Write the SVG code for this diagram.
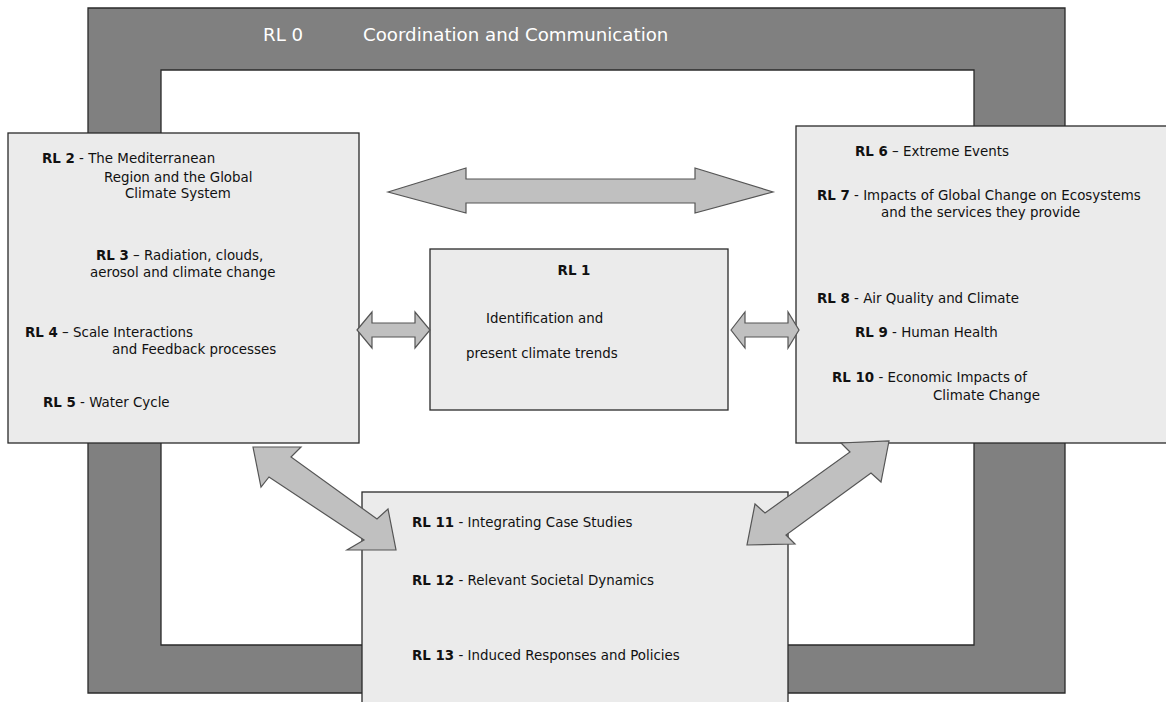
<svg xmlns="http://www.w3.org/2000/svg" width="1166" height="702" viewBox="0 0 1166 702">
<style>
.frame{fill:#808080;stroke:#2a2a2a;stroke-width:1.3;fill-rule:evenodd}
.box{fill:#ebebeb;stroke:#2a2a2a;stroke-width:1.3}
.arr{fill:#c0c0c0;stroke:#555;stroke-width:1.2;stroke-linejoin:miter}
text{font-family:"DejaVu Sans","Liberation Sans",sans-serif;font-size:13.4px;fill:#111}
.b{font-weight:bold}
.w{fill:#fff;font-size:18.2px}
</style>
<rect width="1166" height="702" fill="#fff"/>
<g id="rl0">
<path class="frame" d="M88,8H1065V693H88Z M161,70V645H974V70Z"/>
<text class="w" x="263" y="41">RL 0</text>
<text class="w" x="363" y="41">Coordination and Communication</text>
</g>
<g id="rl2-5">
<rect class="box" x="8" y="133" width="351" height="310"/>
<text x="42" y="163"><tspan class="b">RL 2</tspan> - The Mediterranean</text>
<text x="104" y="182">Region and the Global</text>
<text x="125" y="198">Climate System</text>
<text x="96" y="260"><tspan class="b">RL 3</tspan> – Radiation, clouds,</text>
<text x="90" y="277">aerosol and climate change</text>
<text x="25" y="337"><tspan class="b">RL 4</tspan> – Scale Interactions</text>
<text x="112" y="354">and Feedback processes</text>
<text x="43" y="407"><tspan class="b">RL 5</tspan> -  Water Cycle</text>
</g>
<g id="rl6-10">
<rect class="box" x="796" y="126" width="372" height="317"/>
<text x="855" y="156"><tspan class="b">RL 6</tspan> – Extreme Events</text>
<text x="817" y="200"><tspan class="b">RL 7</tspan> - Impacts of Global Change on Ecosystems</text>
<text x="881" y="217">and the services they provide</text>
<text x="817" y="303"><tspan class="b">RL 8</tspan> - Air Quality and Climate</text>
<text x="855" y="337"><tspan class="b">RL 9</tspan> -  Human Health</text>
<text x="832" y="382"><tspan class="b">RL 10</tspan> - Economic Impacts of</text>
<text x="933" y="400">Climate Change</text>
</g>
<g id="rl1">
<rect class="box" x="430" y="249" width="298" height="161"/>
<text class="b" x="574" y="275" text-anchor="middle">RL 1</text>
<text x="486" y="323">Identification and</text>
<text x="466" y="358">present climate trends</text>
</g>
<g id="rl11-13">
<rect class="box" x="362" y="492" width="426" height="220"/>
<text x="412" y="527"><tspan class="b">RL 11</tspan> - Integrating Case Studies</text>
<text x="412" y="585"><tspan class="b">RL 12</tspan> - Relevant Societal Dynamics</text>
<text x="412" y="660"><tspan class="b">RL 13</tspan> - Induced Responses and Policies</text>
</g>
<g id="connectors">
<polygon class="arr" points="388,192 466,168 466,179 695,179 695,168 773,192 695,213 695,203 466,203 466,213"/>
<polygon class="arr" points="357,330 372,312 372,323 415,323 415,312 430,330 415,348 415,337 372,337 372,348"/>
<polygon class="arr" points="731,330 745,312 745,323 788,323 788,312 799,330 788,348 788,337 745,337 745,348"/>
<polygon class="arr" points="253,447 301,447 291,457 377,519 388,509 396,550 347,550 364,540 269,477 261,487"/>
<polygon class="arr" points="889,441 881,482 871,473 786,535 795,544 747,545 755,504 765,513 850,452 841,443"/>
</g>
</svg>
